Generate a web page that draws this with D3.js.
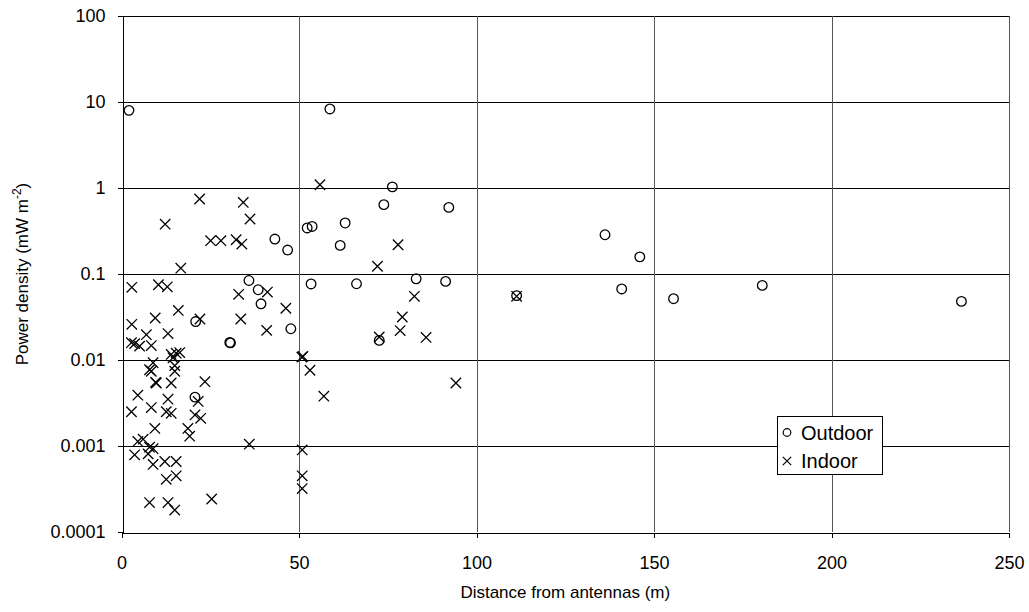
<!DOCTYPE html>
<html>
<head>
<meta charset="utf-8">
<script src="https://cdn.jsdelivr.net/npm/d3@7"></script>
<style>
  body { margin: 0; background: #fff; }
  text { font-family: "Liberation Sans", Arial, sans-serif; fill: #000; }
</style>
</head>
<body>
<svg id="chart" width="1029" height="612"></svg>
<script>
// data: distance (m) and power density (mW m-2)
const outdoorX = [2.1, 58.7, 76.3, 73.9, 92.2, 52.3, 53.7, 63.0, 43.2, 46.8, 61.6,
  35.9, 38.5, 39.3, 53.4, 66.2, 83.0, 91.3, 111.3, 20.9, 47.7, 30.5, 30.7, 72.6,
  20.7, 136.2, 146.0, 140.9, 155.5, 180.5, 236.6];
const outdoorY = [8.0, 8.3, 1.03, 0.64, 0.595, 0.343, 0.357, 0.392, 0.255, 0.19, 0.215,
  0.084, 0.0656, 0.045, 0.0766, 0.077, 0.088, 0.082, 0.056, 0.028, 0.0231, 0.016, 0.0158, 0.0169,
  0.0037, 0.286, 0.158, 0.067, 0.0516, 0.0737, 0.048];

const indoorX = [55.9, 22.0, 34.3, 12.3, 36.2, 25.1, 28.0, 32.3, 33.9, 77.9, 72.1,
  16.7, 2.9, 10.4, 12.9, 41.1, 33.0, 82.5, 111.3, 46.3, 16.0, 9.5, 22.1, 33.6, 79.1,
  2.9, 40.9, 78.5, 72.6, 85.8, 7.0, 13.1, 2.8, 3.7, 5.1, 8.4, 14.0, 15.4, 16.4, 14.5,
  50.8, 51.1, 53.1, 8.9, 7.9, 8.4, 15.0, 15.0, 9.8, 9.6, 14.0, 23.5, 94.2, 57.0, 4.6,
  13.1, 21.6, 2.8, 8.4, 12.6, 14.0, 20.7, 22.3, 9.4, 18.7, 19.2, 4.6, 6.1, 7.9, 8.9,
  36.0, 3.7, 7.5, 8.9, 12.2, 15.4, 12.6, 15.4, 7.9, 13.1, 15.0, 25.4, 50.9, 50.9, 50.9];
const indoorY = [1.09, 0.745, 0.68, 0.38, 0.436, 0.244, 0.244, 0.25, 0.223, 0.219, 0.123,
  0.117, 0.070, 0.075, 0.071, 0.0617, 0.058, 0.055, 0.055, 0.040, 0.0377, 0.0308, 0.030, 0.030, 0.0316,
  0.026, 0.0221, 0.022, 0.0185, 0.0183, 0.0197, 0.0203, 0.0159, 0.0155, 0.0145, 0.0147, 0.0116, 0.012, 0.0122, 0.0106,
  0.0108, 0.011, 0.0076, 0.0093, 0.0077, 0.0074, 0.0086, 0.0074, 0.0054, 0.0055, 0.0054, 0.0056, 0.0054, 0.0038, 0.0039,
  0.0035, 0.0033, 0.0025, 0.0028, 0.0025, 0.0024, 0.0023, 0.0021, 0.0016, 0.0016, 0.0013, 0.00113, 0.0012, 0.00097, 0.00093,
  0.00105, 0.00079, 0.00081, 0.00061, 0.00066, 0.00066, 0.00041, 0.00045, 0.00022, 0.00022, 0.00018, 0.000242, 0.0009, 0.00045, 0.00032];

const xTicks = [0, 50, 100, 150, 200, 250];
const yTicks = [0.0001, 0.001, 0.01, 0.1, 1, 10, 100];
const yTickLabels = ["0.0001", "0.001", "0.01", "0.1", "1", "10", "100"];

const svg = d3.select("#chart");

// plot box
const plotLeft = 121.5, plotRight = 1009, plotTop = 16, plotBottom = 532;

const x = d3.scaleLinear().domain([0, 250]).range([plotLeft, plotRight]);
const y = d3.scaleLog().domain([0.0001, 100]).range([plotBottom, plotTop]);

// gridlines
const grid = svg.append("g")
    .attr("stroke", "#000")
    .attr("stroke-width", 1)
    .attr("shape-rendering", "crispEdges");

grid.selectAll(".hgrid")
    .data(yTicks.slice(1))
    .enter()
    .append("line")
    .attr("x1", plotLeft).attr("x2", plotRight)
    .attr("y1", d => Math.round(y(d)) + 0.5)
    .attr("y2", d => Math.round(y(d)) + 0.5);

grid.selectAll(".vgrid")
    .data(xTicks.slice(1))
    .enter()
    .append("line")
    .attr("stroke", "#555")
    .attr("y1", plotTop).attr("y2", plotBottom)
    .attr("x1", d => Math.round(x(d)) + 0.5)
    .attr("x2", d => Math.round(x(d)) + 0.5);

// axes
const xAxis = svg.append("g")
    .attr("transform", `translate(0,${Math.round(plotBottom) + 0.5})`)
    .call(d3.axisBottom(x).tickValues(xTicks).tickSize(5).tickSizeOuter(0).tickFormat(d3.format("d")));

const yAxis = svg.append("g")
    .attr("transform", `translate(${Math.round(plotLeft) + 0.5},0)`)
    .call(d3.axisLeft(y).tickValues(yTicks).tickSize(5).tickSizeOuter(0)
        .tickFormat((d, i) => yTickLabels[i]));

svg.selectAll(".domain, .tick line")
    .attr("stroke", "#000")
    .attr("shape-rendering", "crispEdges");

xAxis.selectAll("text")
    .attr("font-size", 18)
    .attr("y", 36)
    .attr("dy", 0)
    .style("font-family", "'Liberation Sans', Arial, sans-serif");

yAxis.selectAll("text")
    .attr("font-size", 18)
    .attr("x", -17)
    .style("font-family", "'Liberation Sans', Arial, sans-serif");

// axis titles
svg.append("text")
    .attr("x", (plotLeft + plotRight) / 2)
    .attr("y", 598)
    .attr("text-anchor", "middle")
    .attr("font-size", 17)
    .text("Distance from antennas (m)");

const yTitle = svg.append("text")
    .attr("transform", `translate(28,${(plotTop + plotBottom) / 2}) rotate(-90)`)
    .attr("text-anchor", "middle")
    .attr("font-size", 17);
yTitle.append("tspan").text("Power density (mW m");
yTitle.append("tspan").attr("dy", -7).attr("font-size", 12).text("-2");
yTitle.append("tspan").attr("dy", 7).text(")");

// markers
const outdoor = outdoorX.map((d, i) => ({ x: d, y: outdoorY[i] }));
const indoor = indoorX.map((d, i) => ({ x: d, y: indoorY[i] }));

svg.append("g")
    .selectAll("circle")
    .data(outdoor)
    .enter()
    .append("circle")
    .attr("cx", d => x(d.x))
    .attr("cy", d => y(d.y))
    .attr("r", 4.8)
    .attr("fill", "none")
    .attr("stroke", "#000")
    .attr("stroke-width", 1.3);

const cross = s => `M${-s},${-s}L${s},${s}M${-s},${s}L${s},${-s}`;

svg.append("g")
    .selectAll("path")
    .data(indoor)
    .enter()
    .append("path")
    .attr("transform", d => `translate(${x(d.x)},${y(d.y)})`)
    .attr("d", cross(5.2))
    .attr("fill", "none")
    .attr("stroke", "#000")
    .attr("stroke-width", 1.3);

// legend
const legend = svg.append("g").attr("transform", "translate(777,416)");
legend.append("rect")
    .attr("x", 0.5).attr("y", 0.5)
    .attr("width", 105).attr("height", 58)
    .attr("fill", "#fff")
    .attr("stroke", "#000")
    .attr("shape-rendering", "crispEdges");
legend.append("circle")
    .attr("cx", 10).attr("cy", 16.5).attr("r", 3.8)
    .attr("fill", "none").attr("stroke", "#000").attr("stroke-width", 1.2);
legend.append("path")
    .attr("transform", "translate(10,45)")
    .attr("d", cross(4.2))
    .attr("fill", "none").attr("stroke", "#000").attr("stroke-width", 1.2);
legend.append("text")
    .attr("x", 24).attr("y", 23.5)
    .attr("font-size", 20)
    .text("Outdoor");
legend.append("text")
    .attr("x", 24).attr("y", 52)
    .attr("font-size", 20)
    .text("Indoor");
</script>
</body>
</html>
